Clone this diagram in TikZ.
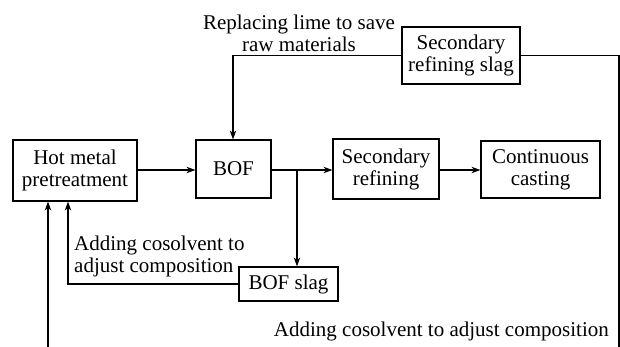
\documentclass[tikz,border=0pt]{standalone}
\usepackage{fontspec}
\setmainfont{Liberation Serif}
\usetikzlibrary{arrows.meta}
\begin{document}
\begin{tikzpicture}[x=1pt,y=-1pt,
  txt/.style={font=\fontsize{21}{22}\selectfont, inner sep=0pt},
  box/.style={draw, line width=1.2pt, txt, align=center},
  conn/.style={line width=1.2pt},
  arr/.style={conn, -{Stealth[length=9pt,width=6.5pt]}}]
\useasboundingbox (0,0) rectangle (620,347);
\node[box, minimum width=124pt, minimum height=61pt] (hot) at (75,170.5) {Hot metal\\pretreatment};
\node[box, minimum width=75pt, minimum height=58pt] (bof) at (233.5,169) {BOF};
\node[box, minimum width=106pt, minimum height=60pt] (sec) at (386,169) {Secondary\\refining};
\node[box, minimum width=119pt, minimum height=57pt] (cc) at (540.5,169.5) {Continuous\\casting};
\node[box, minimum width=118pt, minimum height=57pt] (slag) at (461,55.5) {Secondary\\refining slag};
\node[box, minimum width=99pt, minimum height=34pt] (bofslag) at (288.5,284) {BOF slag};
\coordinate (j) at (297,170);
\coordinate (tl) at (233,55.5);
\coordinate (tr) at (619,55.5);
\coordinate (br) at (619,347);
\coordinate (bl) at (68,284);
\coordinate (ext) at (48,347);
\draw[arr] (hot.east |- 0,170) -- (bof.west |- 0,170);
\draw[conn] (bof.east |- j) -- (j);
\draw[arr] (j) -- (sec.west |- j);
\draw[arr] (j) -- (j |- bofslag.north);
\draw[arr] (sec.east |- 0,170) -- (cc.west |- 0,170);
\draw[arr] (bofslag.west |- bl) -- (bl) -- (bl |- hot.south);
\draw[arr] (slag.west |- tl) -- (tl) -- (tl |- bof.north);
\draw[conn] (slag.east |- tr) -- (tr) -- (br);
\draw[arr] (ext) -- (ext |- hot.south);
\node[txt, anchor=base] (t1) at (299,30) {Replacing lime to save};
\node[txt, anchor=base] (t2) at (299,52) {raw materials};
\node[txt, anchor=base west] (t3) at (74,250) {Adding cosolvent to};
\node[txt, anchor=base west] (t4) at (74,272) {adjust composition};
\node[txt, anchor=base east] (t5) at (609,336) {Adding cosolvent to adjust composition};
\end{tikzpicture}
\end{document}
